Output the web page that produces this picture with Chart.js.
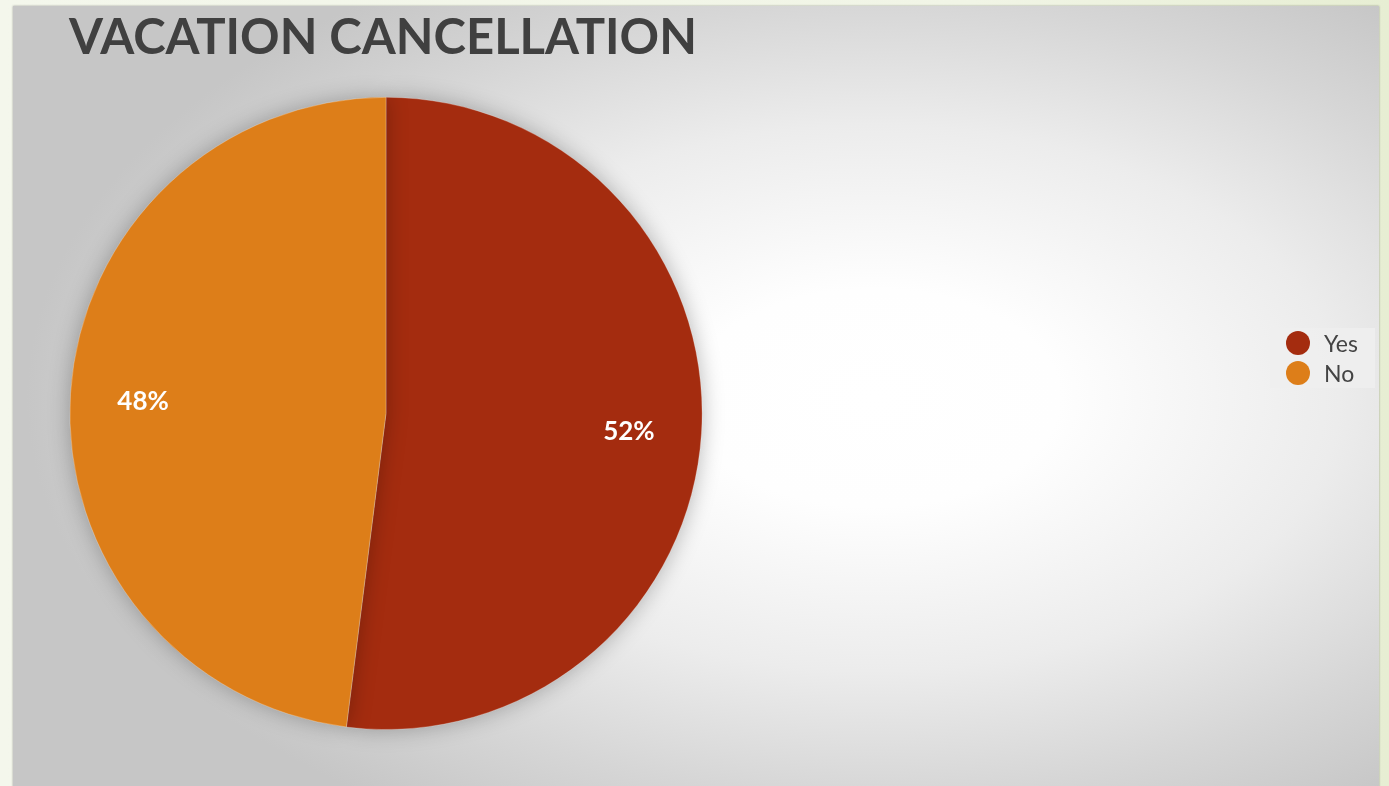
<!DOCTYPE html>
<html lang="en">
<head>
  <meta charset="UTF-8" />
  <title>Vacation Cancellation</title>
  <script src="https://cdn.jsdelivr.net/npm/chart.js"></script>
  <style>
    html, body { margin: 0; padding: 0; }
    body {
      width: 1389px; height: 786px; overflow: hidden;
      background: linear-gradient(90deg, #f4f7ec 0%, #f1f5e6 70%, #e7eed3 100%);
      font-family: "Lato", "DejaVu Sans", sans-serif;
    }
    #panel {
      position: absolute; left: 13px; top: 6px; width: 1366px; height: 800px;
      background: radial-gradient(ellipse 62% 62% at 63% 49%, #ffffff 0%, #fefefe 22%, #ececec 55%, #d6d6d6 80%, #c6c6c6 100%);
      box-shadow: 0 0 2px rgba(0,0,0,0.35);
    }
    #chartWrap { position: absolute; left: 0; top: 0; width: 1366px; height: 780px; }
    #legend {
      position: absolute; left: 1257px; top: 322px; width: 105px; height: 60px;
      background: rgba(238,238,238,0.85);
    }
    .item { position: absolute; left: 0; height: 30px; display: flex; align-items: center; }
    .dot { width: 24px; height: 24px; border-radius: 50%; margin-left: 16px; margin-right: 14px; }
    .lbl { font-size: 23px; color: #444; font-family: "Lato", sans-serif; }
  </style>
</head>
<body>
  <div id="panel">
    <div id="chartWrap"><canvas id="pie"></canvas></div>
    <div id="legend"></div>
  </div>

  <script>
    const categories = ['Yes', 'No'];
    const shares = [52, 48];
    const colors = ['#a42c0f', '#dd7e19'];

    // etiquetas de porcentaje dentro de cada porción
    const pctLabels = {
      id: 'pctLabels',
      afterDatasetsDraw(chart) {
        const ctx = chart.ctx;
        const meta = chart.getDatasetMeta(0);
        ctx.save();
        ctx.fillStyle = '#ffffff';
        ctx.font = 'bold 26px Lato, sans-serif';
        ctx.textAlign = 'center';
        ctx.textBaseline = 'middle';
        meta.data.forEach((arc, i) => {
          const p = arc.getProps(['x', 'y', 'startAngle', 'endAngle', 'outerRadius'], true);
          const mid = (p.startAngle + p.endAngle) / 2;
          const r = p.outerRadius * 0.77;
          ctx.fillText(shares[i] + '%', p.x + Math.cos(mid) * r, p.y + Math.sin(mid) * r + 3);
        });
        ctx.restore();
      }
    };

    // sombra suave alrededor del pastel
    const pieShadow = {
      id: 'pieShadow',
      beforeDatasetsDraw(chart) {
        const ctx = chart.ctx;
        ctx.save();
        ctx.shadowColor = 'rgba(0,0,0,0.28)';
        ctx.shadowBlur = 22;
      },
      afterDatasetsDraw(chart) {
        chart.ctx.restore();
      }
    };

    const chart = new Chart(document.getElementById('pie'), {
      type: 'pie',
      data: {
        labels: categories,
        datasets: [{
          data: shares,
          backgroundColor: colors,
          borderColor: 'rgba(255,255,255,0.25)',
          borderWidth: 1
        }]
      },
      options: {
        responsive: true,
        maintainAspectRatio: false,
        animation: false,
        layout: { padding: { left: 56, right: 676, top: 0, bottom: 56 } },
        plugins: {
          legend: { display: false },
          tooltip: { enabled: false },
          title: {
            display: true,
            text: 'VACATION CANCELLATION',
            align: 'start',
            color: '#404040',
            font: { family: 'Lato', size: 49, weight: 'bold', lineHeight: 1.2 },
            padding: { top: 3, bottom: 29 }
          }
        }
      },
      plugins: [pieShadow, pctLabels]
    });

    const legend = document.getElementById('legend');
    categories.forEach((c, i) => {
      const row = document.createElement('div');
      row.className = 'item';
      row.style.top = (i * 30) + 'px';
      row.innerHTML = `<span class="dot" style="background:${colors[i]}"></span><span class="lbl">${c}</span>`;
      legend.appendChild(row);
    });
  </script>
</body>
</html>
